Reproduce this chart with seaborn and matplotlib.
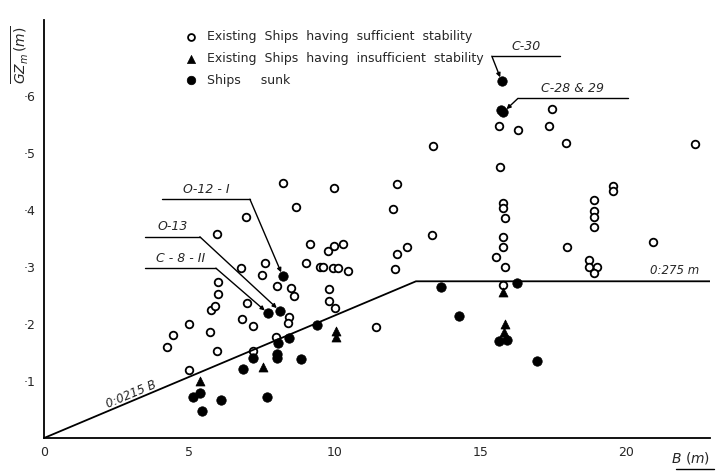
import matplotlib.pyplot as plt
import seaborn as sns
import pandas as pd
from matplotlib.lines import Line2D

plt.switch_backend("Agg")

# --- data (B in m, GZm in m) ---
ok_B = [4.23, 4.43, 4.98, 4.98, 5.70, 5.95, 5.74, 5.88, 5.98, 5.98, 5.95, 6.94,
        8.21, 9.97, 8.66, 6.77, 7.59, 7.50, 6.97, 6.80, 7.18, 8.00, 8.49, 8.59,
        8.42, 8.38, 7.97, 7.18, 9.14, 9.00, 9.50, 9.60, 9.76, 9.96, 10.27, 9.93,
        10.10, 10.45, 9.80, 9.80, 10.00, 11.40, 12.06, 12.13, 12.47, 13.33, 12.00,
        12.13, 13.37, 15.67, 15.64, 16.29, 17.35, 17.46, 17.94, 22.37,
        15.77, 15.77, 15.84, 15.77, 15.77, 15.53, 15.84, 15.77,
        19.55, 19.55, 18.93, 18.93, 18.93, 18.93, 17.97, 20.93, 18.73, 18.73,
        19.00, 18.93]
ok_GZ = [0.160, 0.181, 0.200, 0.119, 0.186, 0.153, 0.224, 0.232, 0.253, 0.274, 0.358, 0.388,
         0.447, 0.438, 0.405, 0.298, 0.307, 0.286, 0.237, 0.209, 0.197, 0.267, 0.263, 0.249,
         0.212, 0.202, 0.177, 0.153, 0.340, 0.307, 0.300, 0.300, 0.328, 0.337, 0.340, 0.298,
         0.298, 0.293, 0.261, 0.240, 0.228, 0.195, 0.296, 0.323, 0.335, 0.356, 0.402,
         0.446, 0.512, 0.475, 0.547, 0.540, 0.547, 0.578, 0.518, 0.516,
         0.412, 0.403, 0.386, 0.353, 0.335, 0.318, 0.300, 0.268,
         0.442, 0.433, 0.417, 0.398, 0.388, 0.370, 0.335, 0.344, 0.312, 0.300,
         0.300, 0.289]

weak_B = [5.36, 7.53, 10.03, 10.03, 15.77, 15.84, 15.81]
weak_GZ = [0.100, 0.124, 0.188, 0.177, 0.256, 0.200, 0.186]

sunk_B = [5.12, 5.36, 5.43, 6.08, 6.84, 7.18, 7.66, 7.70, 8.11, 8.21, 8.04, 8.00,
          8.00, 8.42, 8.83, 9.38, 13.64, 14.26, 16.25, 15.64, 15.91, 16.94,
          15.74, 15.70, 15.80]
sunk_GZ = [0.072, 0.079, 0.047, 0.067, 0.121, 0.140, 0.072, 0.219, 0.223, 0.284, 0.167, 0.147,
           0.140, 0.175, 0.139, 0.198, 0.265, 0.214, 0.272, 0.170, 0.172, 0.135,
           0.626, 0.575, 0.572]

# criterion line: 0.0215 B up to 0.275 m
crit_B = [0, 0.275 / 0.0215, 23]
crit_GZ = [0, 0.275, 0.275]

# labelled sunk ships: name -> index in sunk lists
named = {"O-12 - I": 9, "O-13": 8, "C - 8 - II": 7, "C-30": 22, "C-28 & 29": 24}

ok = pd.DataFrame({"B": ok_B, "GZ": ok_GZ})
weak = pd.DataFrame({"B": weak_B, "GZ": weak_GZ})
sunk = pd.DataFrame({"B": sunk_B, "GZ": sunk_GZ})
crit = pd.DataFrame({"B": crit_B, "GZ": crit_GZ})

sns.set_style("white")
plt.rcParams["font.family"] = ["DejaVu Sans"]

fig = plt.figure(figsize=(7.16, 4.71), dpi=100)
ax = fig.add_axes([0.0615, 0.070, 0.930, 0.887])

sns.lineplot(data=crit, x="B", y="GZ", color="black", lw=1.3, ax=ax, legend=False)
sns.scatterplot(data=ok, x="B", y="GZ", marker="o", s=30, facecolor="white",
                edgecolor="black", linewidth=1.3, ax=ax,
                label="Existing  Ships  having  sufficient  stability")
sns.scatterplot(data=weak, x="B", y="GZ", marker="^", s=42, color="black",
                edgecolor="black", ax=ax,
                label="Existing  Ships  having  insufficient  stability")
sns.scatterplot(data=sunk, x="B", y="GZ", marker="o", s=46, color="black",
                edgecolor="black", ax=ax, label="Ships     sunk")

ax.set_xlim(0, 22.9)
ax.set_ylim(0, 0.733)
ax.set_xticks([0, 5, 10, 15, 20])
ax.set_yticks([0.1, 0.2, 0.3, 0.4, 0.5, 0.6])
ax.set_yticklabels(["·1", "·2", "·3", "·4", "·5", "·6"])
ax.tick_params(direction="out", length=3, width=1, labelsize=9, pad=3)
ax.set_xlabel("")
ax.set_ylabel("")
for side in ["top", "right"]:
    ax.spines[side].set_visible(False)
for side in ["left", "bottom"]:
    ax.spines[side].set_color("black")
    ax.spines[side].set_linewidth(1.3)

ax.legend(loc="upper left", bbox_to_anchor=(0.185, 1.003), frameon=False,
          fontsize=9, handletextpad=0.3, labelspacing=0.7, markerscale=0.9)

# leader lines: (underline start, underline end, height)
leaders = {
    "O-12 - I": (4.05, 7.08, 0.419),
    "O-13": (3.47, 5.36, 0.353),
    "C - 8 - II": (3.47, 5.91, 0.298),
    "C-30": (17.73, 15.40, 0.670),
    "C-28 & 29": (20.07, 16.30, 0.596),
}
for name, (x0, x1, yl) in leaders.items():
    i = named[name]
    px, py = sunk_B[i], sunk_GZ[i]
    ax.plot([x0, x1], [yl, yl], color="black", lw=1)
    ax.annotate("", xy=(px, py), xytext=(x1, yl),
                arrowprops=dict(arrowstyle="-|>", color="black", lw=1,
                                mutation_scale=6, shrinkA=0, shrinkB=3))
    ax.text((x0 + x1) / 2, yl + 0.006, name, ha="center", va="bottom",
            fontsize=9, style="italic")

ax.text(3.0, 0.076, "0:0215 B", rotation=22.8, ha="center", va="center",
        fontsize=8.5, style="italic")
ax.text(21.7, 0.283, "0:275 m", ha="center", va="bottom", fontsize=8.5,
        style="italic")

fig.text(0.028, 0.885, r"$\overline{GZ_m\,(m)}$", rotation=90, ha="center",
         va="center", fontsize=10)
fig.text(0.965, 0.028, r"$B\ (m)$", ha="center", va="center", fontsize=10)
fig.add_artist(Line2D([0.944, 0.997], [0.005, 0.005], color="black", lw=1))

fig.savefig("out.png", dpi=100)
plt.close(fig)
